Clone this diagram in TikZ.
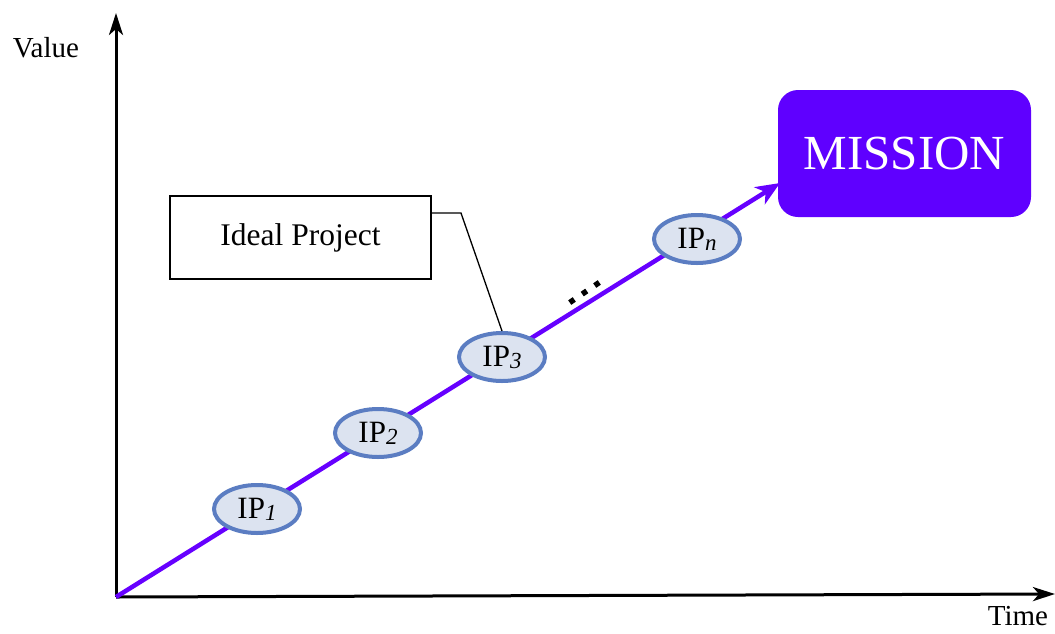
\documentclass[tikz,border=0pt]{standalone}
\usepackage{fontspec}
\setmainfont{Liberation Serif}
\usetikzlibrary{arrows.meta,shapes.geometric,calc}
\definecolor{pathpurple}{HTML}{6600FF}
\definecolor{missionfill}{HTML}{5F00FF}
\definecolor{ipfill}{HTML}{DCE3F0}
\definecolor{ipedge}{HTML}{5B7DC2}
\newcommand{\ipsub}[1]{{\fontsize{23}{23}\selectfont\itshape\raisebox{-2pt}{#1}}}
\tikzset{
  axis/.style={line width=3pt,-{Stealth[length=22pt,width=14pt,inset=6pt]}},
  valuepath/.style={pathpurple,line width=4.5pt,-{Stealth[length=24pt,width=20pt,inset=7pt]}},
  ipnode/.style={ellipse,draw=ipedge,fill=ipfill,line width=4pt,
    minimum width=86pt,minimum height=48pt,inner sep=0pt,
    font=\fontsize{31}{32}\selectfont},
  labelbox/.style={draw,line width=1.4pt,minimum width=261pt,minimum height=83pt,
    font=\fontsize{31.5}{33}\selectfont},
  missionbox/.style={fill=missionfill,text=white,rounded corners=20pt,
    minimum width=253pt,minimum height=127pt,font=\fontsize{49}{51}\selectfont},
  axislabel/.style={font=\fontsize{29}{30}\selectfont,inner sep=0pt},
  dotmark/.style={rectangle,fill=black,minimum size=5.5pt,inner sep=0pt,rotate=35},
  callout/.style={line width=1.3pt}
}
\begin{document}
\begin{tikzpicture}[x=1pt,y=-1pt]
  \useasboundingbox (0,0) rectangle (1055,633);

  % axes
  \coordinate (O) at (116,597);
  \coordinate (ytop) at (116,13);
  \coordinate (xend) at (1055,594);
  \draw[axis] (O) -- (ytop);
  \draw[axis] (O) -- (xend);
  \node[axislabel] (vlabel) at (46,48) {Value};
  \node[axislabel] (tlabel) at (1018,616) {Time};

  % goal
  \node[missionbox] (mission) at (904.5,153.5) {MISSION};
  \coordinate (tip) at (780,183);

  % value path towards the mission
  \draw[valuepath] (O) -- (tip);

  % ideal projects along the path
  \node[ipnode] (ip1) at (257,509) {IP\ipsub{1}};
  \node[ipnode] (ip2) at (378,433) {IP\ipsub{2}};
  \node[ipnode] (ip3) at (502,357) {IP\ipsub{3}};
  \node[ipnode] (ipn) at (697,239) {IP\ipsub{n}};

  % ellipsis between IP3 and IPn
  \node[dotmark] (d1) at (572,301) {};
  \node[dotmark] (d2) at (584.5,292.5) {};
  \node[dotmark] (d3) at (597,284) {};

  % callout label
  \node[labelbox] (ideal) at (300.5,237.5) {Ideal Project};
  \coordinate (elbow) at (461,213);
  \draw[callout] (ideal.east |- elbow) -- (elbow) -- (ip3.north);
\end{tikzpicture}
\end{document}
